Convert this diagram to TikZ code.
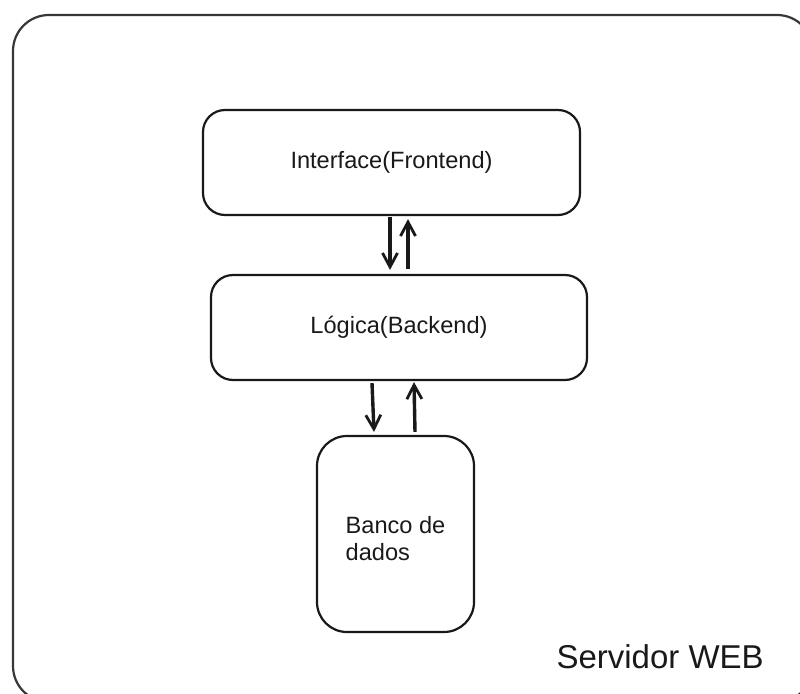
\documentclass[tikz,border=0pt]{standalone}
\usepackage{fontspec}
\setmainfont{Liberation Sans}
\usetikzlibrary{arrows.meta}
\definecolor{LineGray}{RGB}{25,25,25}
\definecolor{FrameGray}{RGB}{55,55,55}
\definecolor{TextGray}{RGB}{25,25,25}

\begin{document}
\begin{tikzpicture}[x=1pt,y=-1pt,
    Box/.style={draw=LineGray,line width=2.2pt,rounded corners=22pt,inner sep=0pt},
    Flow/.style={draw=LineGray,line width=3.4pt,-{Straight Barb[length=14pt,width=15pt,line width=2.8pt]}},
    Label/.style={font=\fontsize{23.6}{27}\selectfont,text=TextGray}]
          \useasboundingbox (0,0) rectangle (800,693);
          % frame
          \begin{scope}
            \clip (0,0) rectangle (800,693);
            \draw[draw=FrameGray,line width=2.2pt,rounded corners=36pt] (13,15) rectangle (813,702);
          \end{scope}
          % boxes
          \node[Box,Label,minimum width=377pt,minimum height=105pt] (frontend) at (391.5,162.5) {Interface(Frontend)};
          \node[Box,Label,minimum width=376pt,minimum height=105pt] (backend) at (399,327.5) {Lógica(Backend)};
          \node[Box,rounded corners=30pt,minimum width=157pt,minimum height=196pt] (dbbox) at (395.5,534) {};
          \node[Label,align=left] (dados) at ([yshift=-5pt]dbbox.center) {Banco de\\dados};
          \node[font=\fontsize{33}{38}\selectfont,text=TextGray,anchor=west] (servidor) at (553,657) {Servidor WEB};
          % connectors
          \draw[Flow] ([xshift=-1.5pt,yshift=-1pt]frontend.south) -- ([xshift=-9pt,yshift=4pt]backend.north);
          \draw[Flow] ([xshift=9pt,yshift=5pt]backend.north) -- ([xshift=16.5pt,yshift=-3pt]frontend.south);
          \draw[Flow] ([xshift=-27pt,yshift=-2pt]backend.south) -- ([xshift=-21.5pt,yshift=3pt]dbbox.north);
          \draw[Flow] ([xshift=19.5pt,yshift=3pt]dbbox.north) -- ([xshift=15pt,yshift=-1pt]backend.south);
        \end{tikzpicture}
\end{document}
